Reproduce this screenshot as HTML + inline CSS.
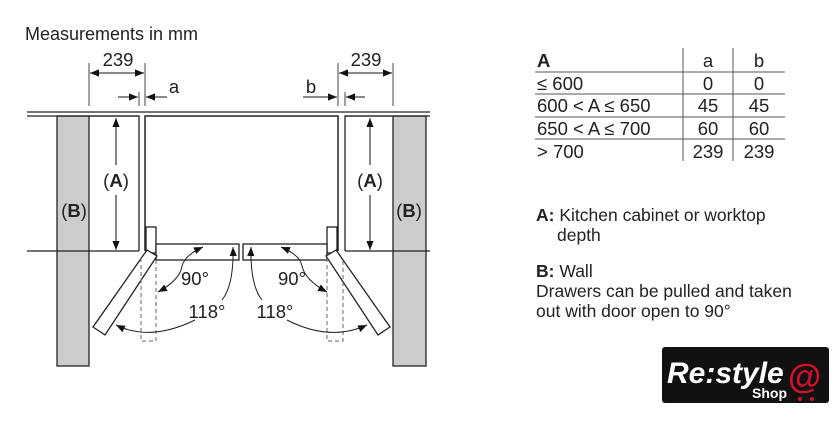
<!DOCTYPE html>
<html><head><meta charset="utf-8"><style>
html,body{margin:0;padding:0;background:#fff;}
svg{display:block;font-family:"Liberation Sans",Arial,sans-serif;}
</style></head><body>
<svg width="840" height="440" viewBox="0 0 840 440" xmlns="http://www.w3.org/2000/svg">
<defs>
<marker id="ar" viewBox="0 0 10 10" refX="10" refY="5" markerWidth="9" markerHeight="9" markerUnits="userSpaceOnUse" orient="auto"><path d="M0,1 L10,5 L0,9 z" fill="#111"/></marker>
</defs>
<text x="25" y="40" font-size="18" fill="#222">Measurements in mm</text>
<rect x="57" y="116" width="32" height="250" fill="#ccc" stroke="#222" stroke-width="1.3"/>
<rect x="393" y="116" width="33" height="250" fill="#ccc" stroke="#222" stroke-width="1.3"/>
<line x1="27" y1="112" x2="430" y2="112" stroke="#222" stroke-width="1.3"/>
<line x1="27" y1="116" x2="139" y2="116" stroke="#222" stroke-width="1.3"/>
<line x1="345" y1="116" x2="430" y2="116" stroke="#222" stroke-width="1.3"/>
<line x1="27" y1="251" x2="139" y2="251" stroke="#222" stroke-width="1.3"/>
<line x1="345" y1="251" x2="430" y2="251" stroke="#222" stroke-width="1.3"/>
<path d="M89 116 H139 V251" fill="none" stroke="#222" stroke-width="1.3"/>
<path d="M392 116 H345 V251" fill="none" stroke="#222" stroke-width="1.3"/>
<path d="M145 251 V116 H338 V251" fill="none" stroke="#222" stroke-width="1.5"/>
<rect x="146" y="227" width="10" height="26" fill="#fff" stroke="#222" stroke-width="1.3"/>
<rect x="327" y="227" width="10" height="26" fill="#fff" stroke="#222" stroke-width="1.3"/>
<rect x="156" y="244" width="83" height="16" fill="#fff" stroke="#222" stroke-width="1.3"/>
<rect x="243" y="244" width="84" height="16" fill="#fff" stroke="#222" stroke-width="1.3"/>
<polygon points="147,250 157,256 105,335 93,327" fill="#fff" stroke="#222" stroke-width="1.3"/>
<polygon points="336,250 326,256 378,335 390,327" fill="#fff" stroke="#222" stroke-width="1.3"/>
<path d="M141 258 V341 H156 V258" fill="none" stroke="#666" stroke-width="1" stroke-dasharray="4,3"/>
<path d="M327 258 V341 H343 V258" fill="none" stroke="#666" stroke-width="1" stroke-dasharray="4,3"/>
<g stroke="#444" stroke-width="1">
<line x1="89" y1="63" x2="89" y2="106"/><line x1="145" y1="63" x2="145" y2="106"/>
<line x1="338" y1="63" x2="338" y2="106"/><line x1="393" y1="63" x2="393" y2="106"/>
<line x1="139" y1="92" x2="139" y2="106"/><line x1="345" y1="92" x2="345" y2="106"/>
</g>
<g stroke="#111" stroke-width="1">
<line x1="117" y1="73" x2="90" y2="73" marker-end="url(#ar)"/>
<line x1="117" y1="73" x2="144" y2="73" marker-end="url(#ar)"/>
<line x1="365" y1="73" x2="339" y2="73" marker-end="url(#ar)"/>
<line x1="365" y1="73" x2="392" y2="73" marker-end="url(#ar)"/>
<line x1="118" y1="97" x2="138" y2="97" marker-end="url(#ar)"/>
<line x1="167" y1="97" x2="146" y2="97" marker-end="url(#ar)"/>
<line x1="303" y1="97" x2="337" y2="97" marker-end="url(#ar)"/>
<line x1="365" y1="97" x2="346" y2="97" marker-end="url(#ar)"/>
<line x1="116" y1="165" x2="116" y2="118" marker-end="url(#ar)"/>
<line x1="116" y1="195" x2="116" y2="250" marker-end="url(#ar)"/>
<line x1="370" y1="165" x2="370" y2="118" marker-end="url(#ar)"/>
<line x1="370" y1="195" x2="370" y2="250" marker-end="url(#ar)"/>
</g>
<g font-size="18.5" fill="#222" text-anchor="middle">
<text x="118" y="66">239</text><text x="366" y="66">239</text>
<text x="174" y="93">a</text><text x="311" y="93">b</text>
<text x="116" y="187">(<tspan font-weight="bold">A</tspan>)</text>
<text x="370" y="187">(<tspan font-weight="bold">A</tspan>)</text>
<text x="74" y="217">(<tspan font-weight="bold">B</tspan>)</text>
<text x="409" y="217">(<tspan font-weight="bold">B</tspan>)</text>
<text x="195" y="285">90°</text><text x="292" y="285">90°</text>
<text x="207" y="318">118°</text><text x="275" y="318">118°</text>
</g>
<g fill="none" stroke="#222" stroke-width="1">
<path d="M182 266 Q180 280 158 292" marker-end="url(#ar)"/>
<path d="M182 266 Q185 255 203 247" marker-end="url(#ar)"/>
<path d="M222 300 Q234 285 233 247" marker-end="url(#ar)"/>
<path d="M195 320 Q150 342 116 325" marker-end="url(#ar)"/>
<path d="M302 266 Q305 280 327 292" marker-end="url(#ar)"/>
<path d="M302 266 Q300 255 281 247" marker-end="url(#ar)"/>
<path d="M262 300 Q250 285 251 247" marker-end="url(#ar)"/>
<path d="M287 320 Q330 342 367 325" marker-end="url(#ar)"/>
</g>
<g stroke="#555" stroke-width="1">
<line x1="535" y1="72" x2="785" y2="72"/><line x1="535" y1="94" x2="785" y2="94"/>
<line x1="535" y1="117" x2="785" y2="117"/><line x1="535" y1="139" x2="785" y2="139"/>
<line x1="683" y1="48" x2="683" y2="161"/><line x1="733" y1="48" x2="733" y2="161"/>
</g>
<g font-size="18.5" fill="#222">
<text x="537" y="67" font-weight="bold">A</text>
<text x="537" y="90">≤ 600</text>
<text x="537" y="112">600 &lt; A ≤ 650</text>
<text x="537" y="135">650 &lt; A ≤ 700</text>
<text x="537" y="158">&gt; 700</text>
</g>
<g font-size="18.5" fill="#222" text-anchor="middle">
<text x="708" y="67">a</text><text x="759" y="67">b</text>
<text x="708" y="90">0</text><text x="759" y="90">0</text>
<text x="708" y="112">45</text><text x="759" y="112">45</text>
<text x="708" y="135">60</text><text x="759" y="135">60</text>
<text x="708" y="158">239</text><text x="759" y="158">239</text>
</g>
<g font-size="17.5" fill="#222">
<text x="536" y="221"><tspan font-weight="bold">A:</tspan> Kitchen cabinet or worktop</text>
<text x="557" y="241">depth</text>
<text x="536" y="277"><tspan font-weight="bold">B:</tspan> Wall</text>
<text x="536" y="297">Drawers can be pulled and taken</text>
<text x="536" y="317">out with door open to 90°</text>
</g>
<rect x="662" y="347" width="167" height="56" rx="3" fill="#111"/>
<text x="667" y="383" font-size="30" font-style="italic" font-weight="bold" fill="#fff">Re:style</text>
<text x="752" y="398" font-size="14" font-weight="bold" fill="#fff">Shop</text>
<text x="788" y="388" font-size="34" font-weight="bold" fill="#d0102a">@</text>
<circle cx="800" cy="399" r="2" fill="#d0102a"/><circle cx="812" cy="399" r="2" fill="#d0102a"/>
</svg>
</body></html>
